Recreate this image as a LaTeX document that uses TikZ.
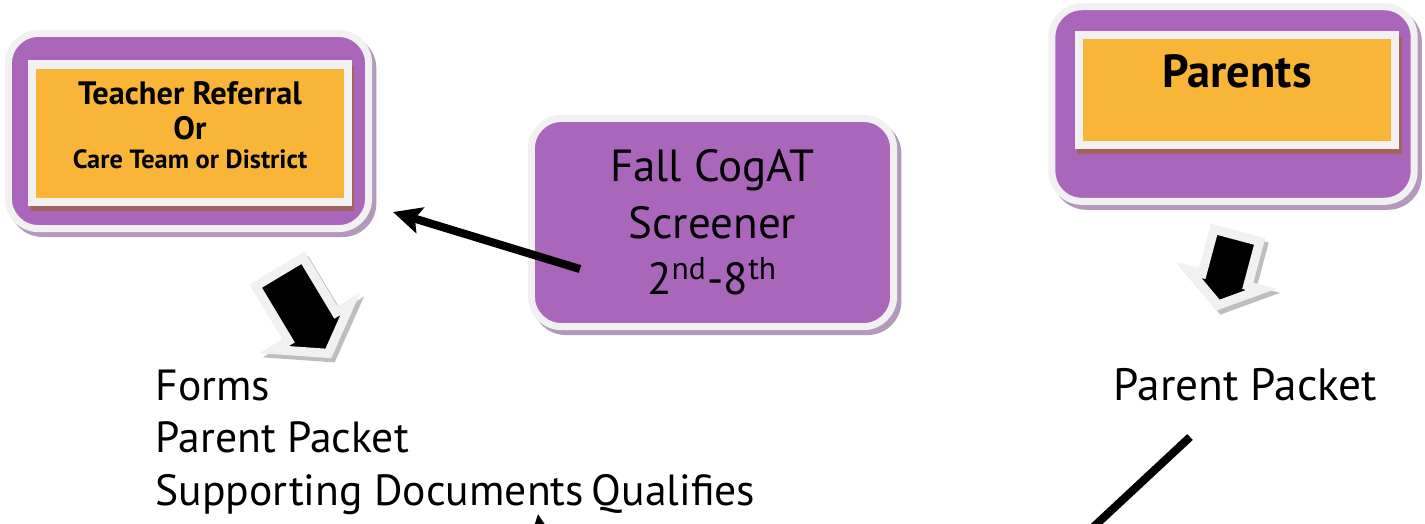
\documentclass[tikz,border=0pt]{standalone}
\usepackage{fontspec}
\setmainfont{PT Sans}
\usetikzlibrary{arrows.meta,shapes.arrows,shadows}
\definecolor{purp}{RGB}{169,102,186}
\definecolor{gold}{RGB}{248,181,56}
\definecolor{frame}{RGB}{241,241,241}
\definecolor{shadepurp}{RGB}{180,154,186}
\definecolor{shadebrown}{RGB}{160,100,92}
\definecolor{shadegray}{RGB}{190,190,190}

\begin{document}
\begin{tikzpicture}[x=0.01cm, y=-0.01cm,
    panel/.style={rectangle, rounded corners=0.3cm, fill=purp, draw=frame, line width=2pt, inner sep=0pt,
        drop shadow={shadow xshift=1.2pt, shadow yshift=-1.4pt, fill=shadepurp, draw=shadepurp, line width=2pt, opacity=1}},
    card/.style={rectangle, fill=gold, draw=frame, line width=2.3pt, inner sep=0pt, align=center,
        drop shadow={shadow xshift=0.8pt, shadow yshift=-1.6pt, fill=shadebrown, draw=shadebrown, line width=2.3pt, opacity=1}},
    bigarrow/.style={single arrow, single arrow tip angle=110, fill=black, draw=frame, line width=2.6pt, inner sep=0pt, anchor=tail,
        drop shadow={shadow xshift=1pt, shadow yshift=-1.2pt, fill=shadegray, draw=shadegray, line width=2.6pt, opacity=1}},
    pointer/.style={line width=2.3pt, -{Stealth[length=8pt, width=7.5pt, inset=1.5pt]}},
    words/.style={font=\fontsize{12.4}{14}\selectfont, anchor=base west, inner sep=0pt}]
    \useasboundingbox (0,0) rectangle (1425,523);
    \clip (0,0) rectangle (1425,523);

    % boxes
    \node[panel, minimum width=3.6cm, minimum height=1.95cm] (tpanel) at (188.5,131) {};
    \node[card, minimum width=3.15cm, minimum height=1.37cm, font=\fontsize{9.2}{9.7}\selectfont\bfseries] (teacher) at (190,133)
        {Teacher Referral\\Or\\[-1.2pt]{\fontsize{7.5}{8.5}\selectfont Care Team or District\rule[-0.15cm]{0pt}{0pt}}};
    \node[panel, minimum width=3.62cm, minimum height=2.08cm, align=center, font=\fontsize{12.8}{16.1}\selectfont] (fall) at (712.5,222.5)
        {Fall CogAT\\Screener\\2\textsuperscript{nd}-8\textsuperscript{th}};
    \node[panel, minimum width=3.62cm, minimum height=1.945cm] (ppanel) at (1233,104) {};
    \node[card, minimum width=3.165cm, text height=0.52cm, text depth=0.575cm, font=\fontsize{13.2}{15}\selectfont\bfseries] (parents) at (1237,90) {Parents};

    % block arrows
    \node[bigarrow, rotate=-59, minimum height=0.95cm, inner ysep=0.23cm, single arrow head extend=0.17cm] (tdrop) at (277,268) {};
    \node[bigarrow, rotate=-105, minimum height=0.72cm, inner ysep=0.19cm, single arrow head extend=0.14cm] (pdrop) at (1238,231) {};

    % texts
    \node[words] (forms) at (155,400) {Forms};
    \node[words] (packet) at (155,452) {Parent Packet};
    \node[words] (docs) at (155,505) {Supporting Documents};
    \node[words] (qual) at (591,505) {Qualifies};
    \node[words, font=\fontsize{12.9}{14}\selectfont] (rpacket) at (1113,400) {Parent Packet};

    % pointers
    \coordinate (cogtail) at (580,269);
    \coordinate (cogtip) at (393,212);
    \draw[pointer] (cogtail) -- (cogtip);
    \coordinate (rtop) at (1190,437);
    \coordinate (rlow) at (1058,560);
    \draw[line width=2.3pt] (rtop) -- (rlow);
    \coordinate (qtail) at (550,600);
    \coordinate (qtip) at (538,514);
    \draw[pointer] (qtail) -- (qtip);
\end{tikzpicture}
\end{document}
